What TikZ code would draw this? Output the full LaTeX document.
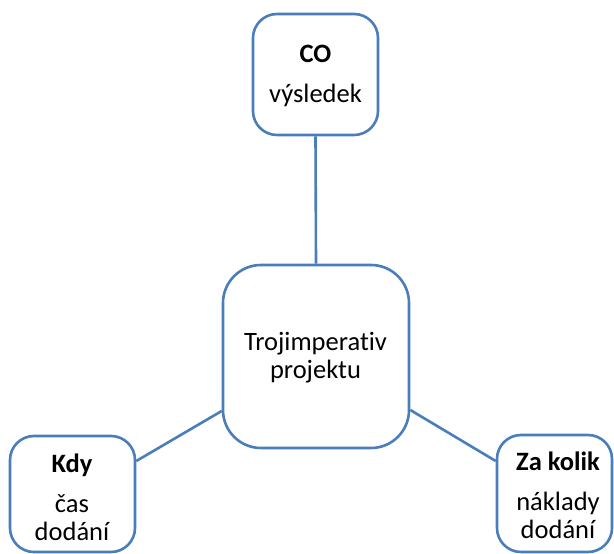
\documentclass[tikz,border=0pt]{standalone}
\usepackage{fontspec}
\setmainfont{Carlito}[Ligatures={NoCommon}]
\definecolor{boxblue}{HTML}{4A7EBB}
\begin{document}
\begin{tikzpicture}[x=1bp,y=-1bp,
  box/.style={draw=boxblue, line width=2.6bp, fill=white, rounded corners=#1, inner sep=0pt},
  box/.default=24bp,
  link/.style={draw=boxblue, line width=2.6bp},
  lbl/.style={anchor=base, inner sep=0pt, font=\fontsize{26.5bp}{30bp}\selectfont}]
\useasboundingbox (0,0) rectangle (614,554);

% boxes
\node[box, minimum width=125bp, minimum height=121bp] (co) at (315.5,74.5) {};
\node[box=38bp, minimum width=186bp, minimum height=183bp] (mid) at (316,356.5) {};
\node[box, minimum width=125bp, minimum height=116bp] (kdy) at (72.5,494) {};
\node[box, minimum width=115bp, minimum height=117bp] (za) at (554.5,493.5) {};

% connectors
\draw[link] (co.south) -- (mid.north);
\draw[link] ([yshift=33bp]kdy.east) -- ([yshift=-54.5bp]mid.west);
\draw[link] ([yshift=-53.5bp]mid.east) -- ([yshift=32.5bp]za.west);

% labels
\node[lbl] (t1) at (315.5,63) {\textbf{CO}};
\node[lbl] (t2) at (315.5,103) {výsledek};
\node[lbl] (t3) at (315.5,350) {Trojimperativ};
\node[lbl] (t4) at (315.5,378.5) {projektu};
\node[lbl] (t5) at (72,472) {\textbf{Kdy}};
\node[lbl] (t6) at (72,512) {čas};
\node[lbl] (t7) at (72,540) {dodání};
\node[lbl] (t8) at (558,470) {\textbf{Za kolik}};
\node[lbl] (t9) at (558,510) {náklady};
\node[lbl] (t10) at (558,538.5) {dodání};
\end{tikzpicture}
\end{document}
